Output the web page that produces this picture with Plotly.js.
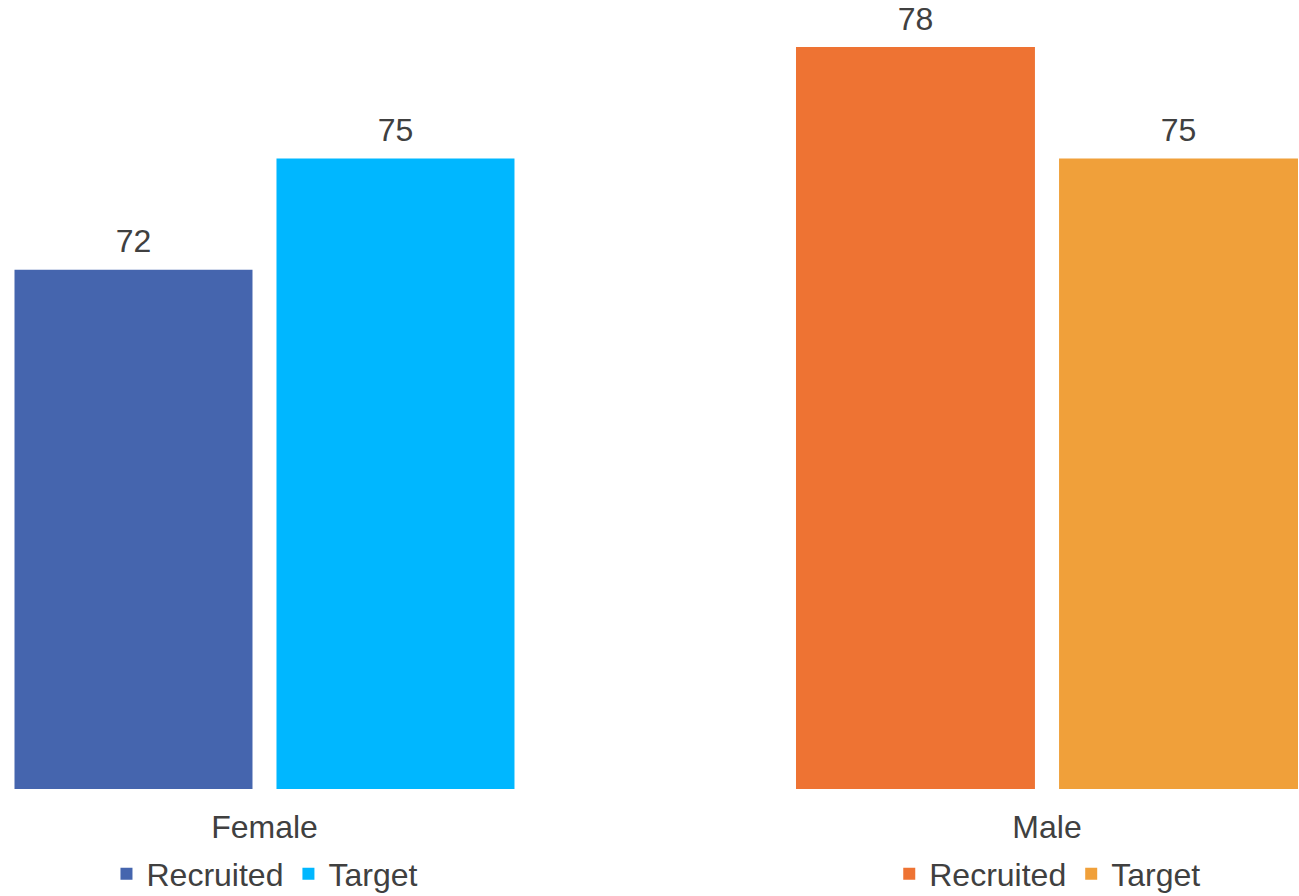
<!DOCTYPE html>
<html>
<head>
<meta charset="utf-8">
<script src="https://cdn.plot.ly/plotly-3.0.1.min.js"></script>
<style>html,body{margin:0;padding:0;background:#fff;}#chart{width:1299px;height:896px;}</style>
</head>
<body>
<div id="chart"></div>
<script>
var groups = ['Female', 'Male'];
var seriesNames = ['Recruited', 'Target'];
var recruited = [72, 78];
var target = [75, 75];
var femaleColors = ['#4565AE', '#00B7FF'];
var maleColors = ['#EE7333', '#F0A03A'];

var txt = '#404040';
var fnt = 'Arial, "Liberation Sans", sans-serif';
var fs = 32;

function bar(gi, val, name, color, xa, ya, lg) {
  return {
    type: 'bar',
    x: [groups[gi]],
    y: [val],
    name: name,
    xaxis: xa,
    yaxis: ya,
    legend: lg,
    marker: {color: color, line: {width: 0}},
    hoverinfo: 'x+y+name'
  };
}

function label(gi, val, xa, ya) {
  return {
    type: 'scatter',
    mode: 'markers+text',
    x: [groups[gi]],
    y: [val],
    text: [String(val)],
    textposition: 'top center',
    textfont: {size: fs, color: txt, family: fnt},
    marker: {size: 13.6, opacity: 0},
    xaxis: xa,
    yaxis: ya,
    showlegend: false,
    cliponaxis: false,
    hoverinfo: 'skip'
  };
}

var data = [
  bar(0, recruited[0], seriesNames[0], femaleColors[0], 'x', 'y', 'legend'),
  bar(0, target[0], seriesNames[1], femaleColors[1], 'x', 'y', 'legend'),
  bar(1, recruited[1], seriesNames[0], maleColors[0], 'x2', 'y2', 'legend2'),
  bar(1, target[1], seriesNames[1], maleColors[1], 'x2', 'y2', 'legend2'),
  label(0, recruited[0], 'x', 'y'),
  label(0, target[0], 'x', 'y'),
  label(1, recruited[1], 'x2', 'y2'),
  label(1, target[1], 'x2', 'y2')
];

var yax = {range: [58, 79.27], showgrid: false, zeroline: false, showline: false, showticklabels: false, ticks: ''};
var legendBase = {
  orientation: 'h', xanchor: 'center', yanchor: 'middle', yref: 'container', y: 0.0246,
  font: {size: fs, color: txt, family: fnt}, bgcolor: 'rgba(0,0,0,0)'
};

var layout = {
  width: 1299, height: 896,
  margin: {l: 0, r: 0, t: 0, b: 107},
  paper_bgcolor: '#ffffff', plot_bgcolor: '#ffffff',
  font: {family: fnt, color: txt},
  barmode: 'group', bargap: 0, bargroupgap: 0.0916,
  scattermode: 'group', scattergap: 0,
  xaxis: {domain: [0.00192, 0.4053], range: [-0.5, 0.5], type: 'category', showgrid: false, zeroline: false, showline: false, ticks: '', ticklabelstandoff: 16, tickfont: {size: fs, color: txt, family: fnt}},
  xaxis2: {domain: [0.6035, 1], range: [-0.5, 0.479], type: 'category', anchor: 'y2', showgrid: false, zeroline: false, showline: false, ticks: '', ticklabelstandoff: 16, tickfont: {size: fs, color: txt, family: fnt}},
  yaxis: Object.assign({}, yax),
  yaxis2: Object.assign({anchor: 'x2'}, yax),
  legend: Object.assign({x: 0.2036}, legendBase),
  legend2: Object.assign({x: 0.8062}, legendBase),
  showlegend: true
};

Plotly.newPlot('chart', data, layout, {displayModeBar: false, staticPlot: true});
</script>
</body>
</html>
